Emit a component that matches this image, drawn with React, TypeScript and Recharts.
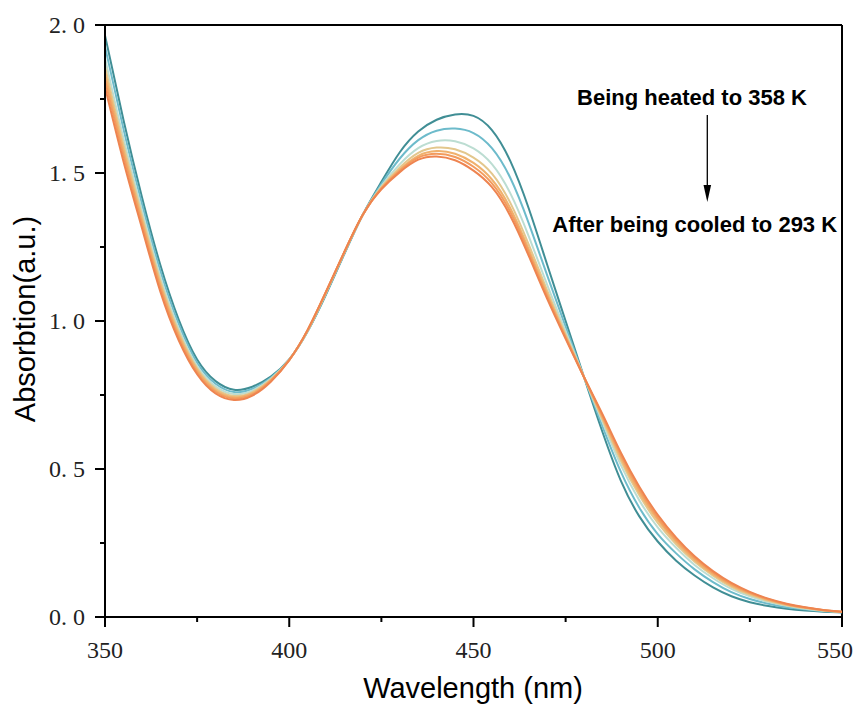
import { LineChart, Line, XAxis, YAxis, ReferenceLine } from 'recharts';

// wavelength grid (nm)
const wavelengths = [
  350, 355, 360, 365, 370, 375, 380, 385, 390, 395, 400, 405, 410, 415, 420, 425, 430, 435, 440, 445, 450,
  455, 460, 465, 470, 475, 480, 485, 490, 495, 500, 505, 510, 515, 520, 525, 530, 535, 540, 545, 550,
];

// absorption spectra, from heated (358 K) down to cooled (293 K)
const scan1 = [
  1.965, 1.68, 1.42, 1.19, 1.005, 0.87, 0.797, 0.768, 0.778, 0.812, 0.87, 0.965, 1.09, 1.228, 1.36, 1.47, 1.57, 1.64, 1.68, 1.698, 1.693,
  1.645, 1.54, 1.38, 1.19, 1.0, 0.81, 0.625, 0.46, 0.34, 0.255, 0.19, 0.14, 0.1, 0.07, 0.05, 0.037, 0.028, 0.022, 0.018, 0.015,
];
const scan2 = [
  1.927, 1.649, 1.397, 1.17, 0.99, 0.859, 0.788, 0.76, 0.771, 0.808, 0.87, 0.966, 1.093, 1.23, 1.36, 1.463, 1.549, 1.611, 1.643, 1.65, 1.635,
  1.584, 1.483, 1.33, 1.154, 0.981, 0.81, 0.644, 0.49, 0.369, 0.28, 0.215, 0.161, 0.118, 0.084, 0.061, 0.045, 0.033, 0.026, 0.02, 0.016,
];
const scan3 = [
  1.888, 1.618, 1.374, 1.15, 0.974, 0.848, 0.779, 0.753, 0.765, 0.805, 0.869, 0.967, 1.096, 1.232, 1.36, 1.456, 1.53, 1.584, 1.608, 1.607, 1.583,
  1.53, 1.431, 1.286, 1.122, 0.965, 0.81, 0.659, 0.513, 0.394, 0.303, 0.234, 0.176, 0.131, 0.095, 0.07, 0.051, 0.038, 0.028, 0.021, 0.017,
];
const scan4 = [
  1.86, 1.596, 1.357, 1.136, 0.963, 0.84, 0.772, 0.747, 0.76, 0.802, 0.869, 0.968, 1.097, 1.233, 1.36, 1.452, 1.519, 1.568, 1.586, 1.58, 1.552,
  1.498, 1.399, 1.258, 1.103, 0.954, 0.81, 0.668, 0.528, 0.411, 0.318, 0.246, 0.187, 0.14, 0.102, 0.075, 0.055, 0.04, 0.03, 0.022, 0.017,
];
const scan5 = [
  1.837, 1.578, 1.343, 1.124, 0.954, 0.834, 0.766, 0.742, 0.756, 0.8, 0.869, 0.969, 1.098, 1.234, 1.36, 1.449, 1.512, 1.558, 1.574, 1.565, 1.534,
  1.478, 1.381, 1.242, 1.091, 0.948, 0.81, 0.674, 0.538, 0.421, 0.328, 0.254, 0.193, 0.145, 0.107, 0.079, 0.058, 0.042, 0.031, 0.023, 0.017,
];
const scan6 = [
  1.815, 1.56, 1.33, 1.113, 0.945, 0.827, 0.761, 0.738, 0.752, 0.798, 0.868, 0.97, 1.099, 1.234, 1.36, 1.447, 1.508, 1.552, 1.565, 1.554, 1.521,
  1.465, 1.368, 1.231, 1.083, 0.944, 0.81, 0.68, 0.546, 0.431, 0.336, 0.261, 0.199, 0.15, 0.111, 0.082, 0.06, 0.043, 0.032, 0.023, 0.018,
];
const scan7 = [
  1.79, 1.54, 1.315, 1.1, 0.935, 0.82, 0.755, 0.733, 0.748, 0.795, 0.868, 0.97, 1.1, 1.235, 1.36, 1.445, 1.503, 1.545, 1.556, 1.543, 1.508,
  1.452, 1.355, 1.22, 1.075, 0.94, 0.81, 0.685, 0.555, 0.44, 0.345, 0.268, 0.205, 0.155, 0.115, 0.085, 0.062, 0.045, 0.033, 0.024, 0.018,
];

const scans = [scan1, scan2, scan3, scan4, scan5, scan6, scan7];
const scanColors = ['#408E95', '#6DBBCB', '#BCDDD2', '#E3C78D', '#F0B16D', '#F39B5D', '#EE8450'];

const xTicks = [350, 375, 400, 425, 450, 475, 500, 525, 550];
const yTicks = [0, 0.25, 0.5, 0.75, 1, 1.25, 1.5, 1.75, 2];

const data = wavelengths.map((nm, i) => {
  const row: any = { nm };
  scans.forEach((s, k) => (row[`s${k + 1}`] = s[i]));
  return row;
});

const W = 846;
const H = 701;
const sans = '"Liberation Sans", Arial, sans-serif';
const serif = '"Liberation Serif", "Times New Roman", serif';

const XTick = ({ x, y, payload }: any) => {
  const major = payload.value % 50 === 0;
  // last label pulled in a little so it stays inside the page
  const last = payload.value === 550;
  return (
    <g>
      <line x1={x} x2={x} y1={y} y2={y + (major ? 10 : 5)} stroke="#000" strokeWidth={2} />
      {major && (
        <text
          x={last ? x + 11 : x}
          y={y + 41}
          textAnchor={last ? 'end' : 'middle'}
          fontFamily={serif}
          fontSize={24}
          fill="#222"
        >
          {payload.value}
        </text>
      )}
    </g>
  );
};

const YTick = ({ x, y, payload }: any) => {
  const v = payload.value;
  const major = Math.round(v * 100) % 50 === 0;
  const [a, b] = v.toFixed(1).split('.');
  return (
    <g>
      <line x1={x} x2={x - (major ? 10 : 5)} y1={y} y2={y} stroke="#000" strokeWidth={2} />
      {major && (
        <text x={x - 20} y={y} dy="0.35em" textAnchor="end" fontFamily={serif} fontSize={24} fill="#222">
          {a}.<tspan dx={6}>{b}</tspan>
        </text>
      )}
    </g>
  );
};

export default function App() {
  return (
    <div style={{ position: 'relative', width: W, height: H, background: '#fff' }}>
      <LineChart width={W} height={H} data={data} margin={{ top: 17, right: 12, left: 0, bottom: 0 }}>
        <XAxis
          dataKey="nm"
          type="number"
          domain={[350, 550]}
          ticks={xTicks}
          interval={0}
          height={92}
          axisLine={{ stroke: '#000', strokeWidth: 2 }}
          tickLine={false}
          tickSize={0}
          tickMargin={0}
          tick={<XTick />}
        />
        <YAxis
          type="number"
          domain={[0, 2]}
          ticks={yTicks}
          interval={0}
          width={97}
          axisLine={{ stroke: '#000', strokeWidth: 2 }}
          tickLine={false}
          tickSize={0}
          tickMargin={0}
          tick={<YTick />}
        />
        <ReferenceLine y={2} stroke="#000" strokeWidth={2} />
        <ReferenceLine x={550} stroke="#000" strokeWidth={2} />
        {scans.map((_, k) => (
          <Line
            key={k}
            dataKey={`s${k + 1}`}
            type="natural"
            stroke={scanColors[k]}
            strokeWidth={2}
            dot={false}
            isAnimationActive={false}
          />
        ))}
      </LineChart>
      <svg width={W} height={H} style={{ position: 'absolute', left: 0, top: 0, pointerEvents: 'none' }}>
        <text x={465} y={690} textAnchor="middle" fontFamily={sans} fontSize={29} fill="#000">
          Wavelength (nm)
        </text>
        <text
          x={27}
          y={311}
          transform="rotate(-90, 27, 311)"
          textAnchor="middle"
          fontFamily={sans}
          fontSize={29}
          fill="#000"
        >
          Absorbtion(a.u.)
        </text>
        <text x={684} y={97} textAnchor="middle" fontFamily={sans} fontWeight="bold" fontSize={22} fill="#000">
          Being heated to 358 K
        </text>
        <line x1={699.3} x2={699.3} y1={107} y2={182} stroke="#000" strokeWidth={1.3} />
        <polygon points="699.3,194 695.5,177 703.1,177" fill="#000" />
        <text x={686.7} y={223.7} textAnchor="middle" fontFamily={sans} fontWeight="bold" fontSize={22} fill="#000">
          After being cooled to 293 K
        </text>
      </svg>
    </div>
  );
}
